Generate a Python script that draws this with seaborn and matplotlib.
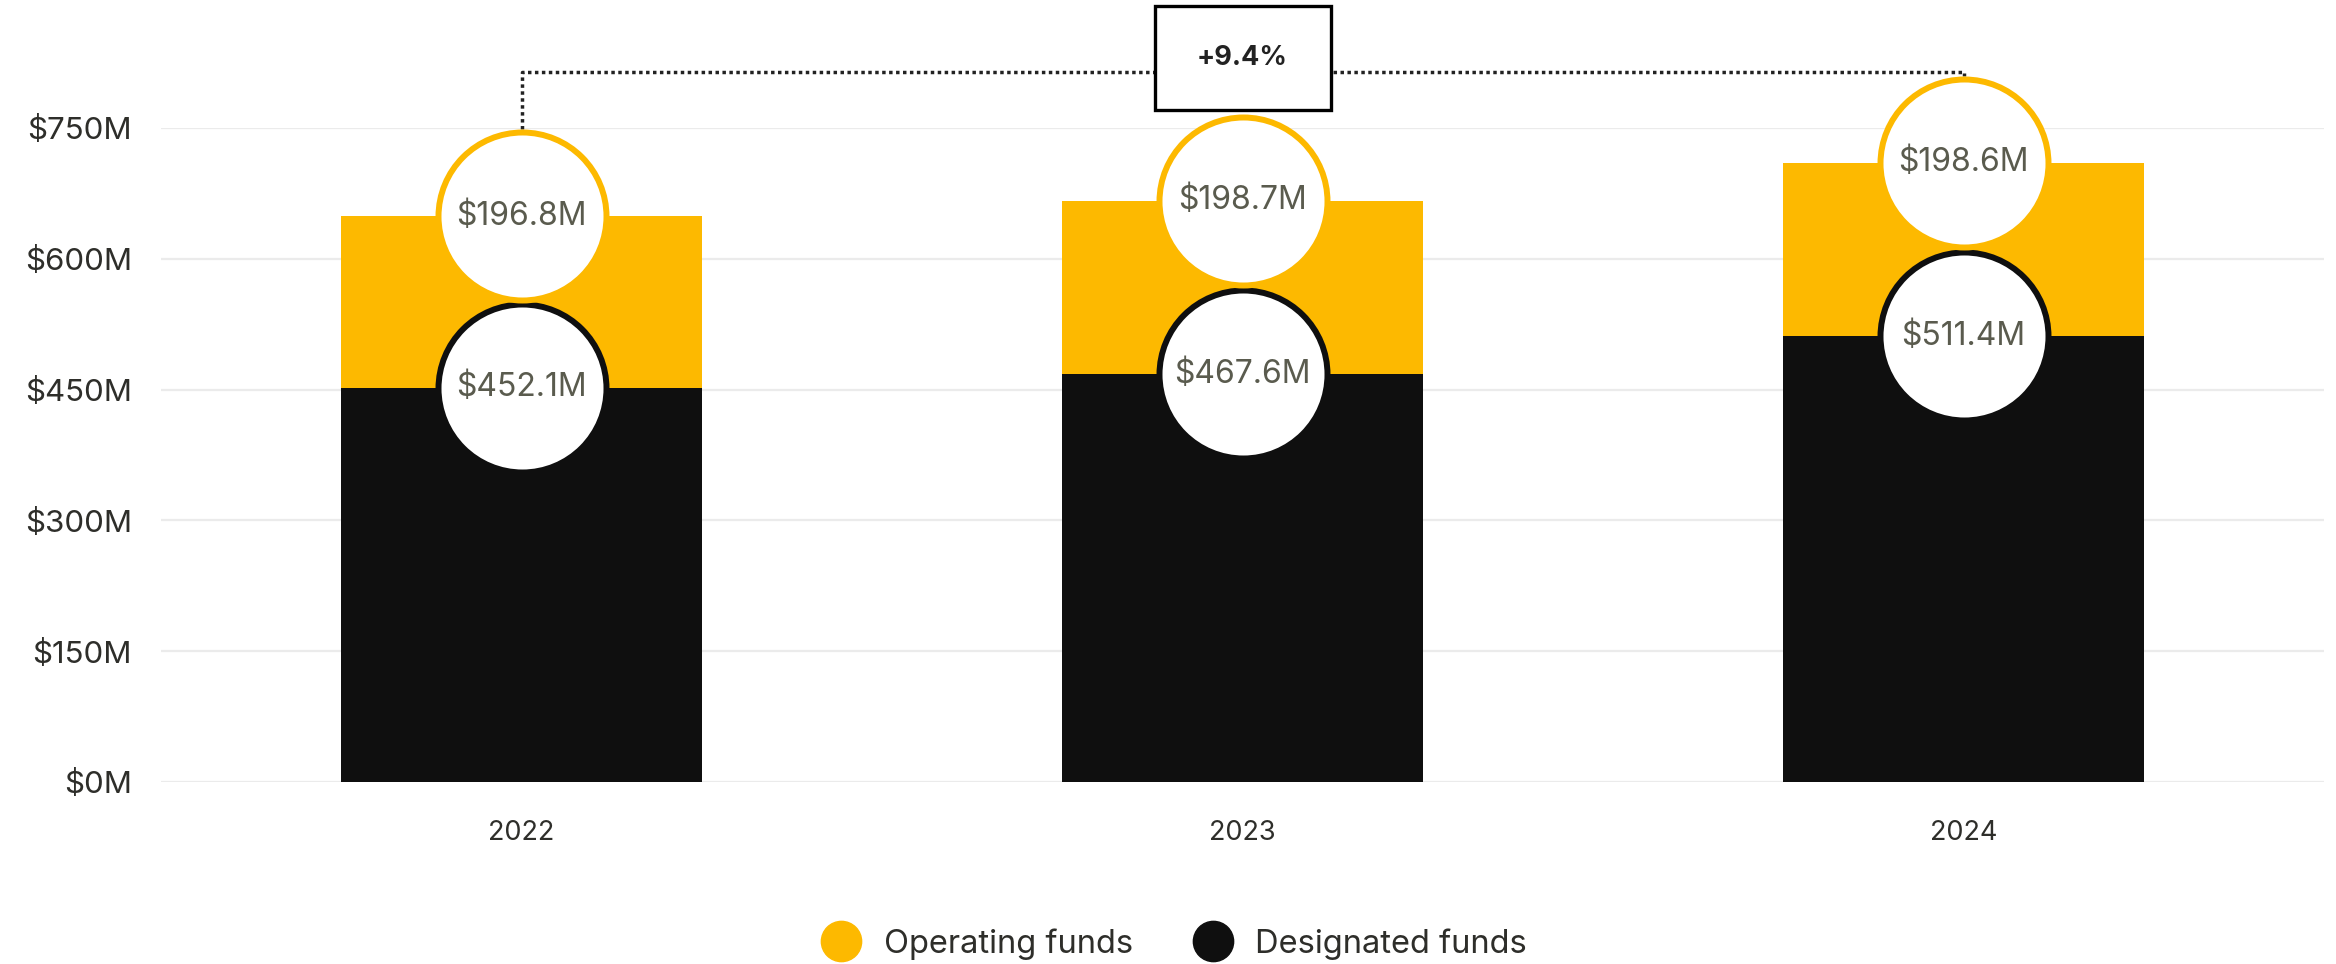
import matplotlib
matplotlib.use("Agg")
import matplotlib.pyplot as plt
from matplotlib.lines import Line2D
from matplotlib.patches import Rectangle
import seaborn as sns
import pandas as pd

# Fund balances, $ millions
years = ["2022", "2023", "2024"]
operating = [196.8, 198.7, 198.6]
designated = [452.1, 467.6, 511.4]
y_ticks = [0, 150, 300, 450, 600, 750]

ORANGE = "#FDB900"
BLACK = "#0F0F0F"
LABEL_GRAY = "#5A5B4E"
TEXT_DARK = "#2E2E2A"
GRID = "#EBEBEB"

sns.set_theme(style="white")
plt.rcParams["font.family"] = ["Inter", "DejaVu Sans"]

totals = [o + d for o, d in zip(operating, designated)]
df = pd.DataFrame({"year": years, "total": totals, "designated": designated})

W, H, DPI = 2336, 964, 100
fig = plt.figure(figsize=(W / DPI, H / DPI), dpi=DPI)
ax_box = [161 / W, 182 / H, (2324 - 161) / W, 654 / H]
ax = fig.add_axes(ax_box)

# Stacked bars: full total in orange, designated portion drawn over it in black
sns.barplot(data=df, x="year", y="total", color=ORANGE, width=0.5,
            saturation=1, ax=ax, zorder=2, linewidth=0)
sns.barplot(data=df, x="year", y="designated", color=BLACK, width=0.5,
            saturation=1, ax=ax, zorder=3, linewidth=0)

ax.set_xlim(-0.5, 2.5)
ax.set_ylim(0, 750)
ax.set_yticks(y_ticks)
ax.set_yticklabels([f"${v}M" for v in y_ticks])
ax.set_xlabel("")
ax.set_ylabel("")
for s in ax.spines.values():
    s.set_visible(False)
ax.grid(axis="y", color=GRID, linewidth=1.6, zorder=0)
ax.set_axisbelow(True)
ax.tick_params(axis="y", length=0, pad=21, labelsize=22.5, labelcolor=TEXT_DARK)
ax.tick_params(axis="x", length=0, pad=27, labelsize=19.5, labelcolor=TEXT_DARK)

# Value badges: white circles at each segment top
px_per_unit = ax_box[3] * H / 750
badge_d_px = 168
badge_s = (badge_d_px * 72 / DPI) ** 2
badge_r = (badge_d_px / 2 + 3) / px_per_unit
xs = list(range(len(years)))

ax.scatter(xs, designated, s=badge_s, facecolor="white", edgecolor=BLACK,
           linewidth=4.3, zorder=4, clip_on=False)
ax.scatter(xs, totals, s=badge_s, facecolor="white", edgecolor=ORANGE,
           linewidth=4.3, zorder=5, clip_on=False)
for x, d, o, t in zip(xs, designated, operating, totals):
    ax.text(x, d, f"${d:.1f}M", ha="center", va="center", fontsize=23,
            color=LABEL_GRAY, zorder=6)
    ax.text(x, t, f"${o:.1f}M", ha="center", va="center", fontsize=23,
            color=LABEL_GRAY, zorder=6)

# Growth bracket between first and last year
bracket_y = 814
first_top = totals[0] + badge_r
last_top = totals[-1] + badge_r
ax.plot([xs[0], xs[0], xs[-1], xs[-1]],
        [first_top, bracket_y, bracket_y, last_top],
        color="#222222", linewidth=2.5, linestyle=(0, (1, 1)),
        clip_on=False, zorder=3)

growth = (totals[-1] / totals[0] - 1) * 100
box_w = 176 / (ax_box[2] * W / 3)
box_h = 104 / px_per_unit
box_cy = bracket_y + 16
mid = (xs[0] + xs[-1]) / 2
ax.add_patch(Rectangle((mid - box_w / 2, box_cy - box_h / 2), box_w, box_h,
                       facecolor="white", edgecolor="black", linewidth=2.4,
                       clip_on=False, zorder=7))
ax.text(mid, box_cy, f"+{growth:.1f}%", ha="center", va="center",
        fontsize=19.5, fontweight="bold", color="#222222", zorder=8)

handles = [
    Line2D([], [], marker="o", linestyle="", markersize=29,
           markerfacecolor=ORANGE, markeredgecolor=ORANGE, label="Operating funds"),
    Line2D([], [], marker="o", linestyle="", markersize=29,
           markerfacecolor=BLACK, markeredgecolor=BLACK, label="Designated funds"),
]
leg = fig.legend(handles=handles, loc="center", bbox_to_anchor=(0.503, 0.021),
                 ncol=2, frameon=False, fontsize=23.5, handlelength=1.1,
                 handletextpad=0.75, columnspacing=1.9)
for t in leg.get_texts():
    t.set_color(TEXT_DARK)

fig.savefig("out.png", dpi=DPI)
